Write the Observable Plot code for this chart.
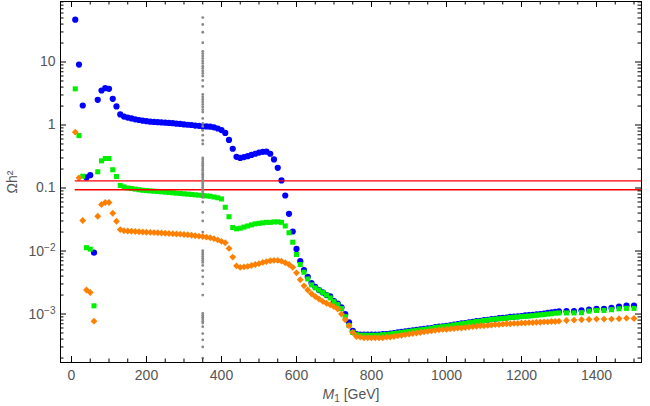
<!DOCTYPE html>
<html>
<head>
<meta charset="utf-8">
<script src="https://cdn.jsdelivr.net/npm/d3@7"></script>
<script src="https://cdn.jsdelivr.net/npm/@observablehq/plot@0.6"></script>
<style>
  html, body { margin: 0; padding: 0; background: #fff; }
  #chart { width: 650px; height: 406px; }
</style>
</head>
<body>
<div id="chart"></div>
<script>
// ---- data ----
const masses = [
  10, 20, 30, 40, 50, 60, 70, 80, 90, 100,
  110, 120, 130, 140, 150, 160, 170, 180, 190, 200,
  210, 220, 230, 240, 250, 260, 270, 280, 290, 300,
  310, 320, 330, 340, 350, 360, 370, 380, 390, 400,
  410, 420, 430, 440, 450, 460, 470, 480, 490, 500,
  510, 520, 530, 540, 550, 560, 570, 580, 590, 600,
  610, 620, 630, 640, 650, 660, 670, 680, 690, 700,
  710, 720, 730, 740, 750, 760, 770, 780, 790, 800,
  810, 820, 830, 840, 850, 860, 870, 880, 890, 900,
  910, 920, 930, 940, 950, 960, 970, 980, 990, 1000,
  1010, 1020, 1030, 1040, 1050, 1060, 1070, 1080, 1090, 1100,
  1110, 1120, 1130, 1140, 1150, 1160, 1170, 1180, 1190, 1200,
  1210, 1220, 1230, 1240, 1250, 1260, 1270, 1280, 1290, 1300,
  1320, 1340, 1360, 1380, 1400, 1420, 1440, 1460, 1480, 1500
];

const blueOmega = [
  47, 9.1, 2.04, 0.147, 0.16, 0.0094, 2.51, 3.53, 3.84, 3.75,
  2.6, 1.97, 1.47, 1.36, 1.31, 1.27, 1.23, 1.2, 1.17, 1.15,
  1.13, 1.12, 1.11, 1.1, 1.09, 1.08, 1.07, 1.05, 1.04, 1.02,
  1.01, 1.0, 0.98, 0.97, 0.95, 0.95, 0.94, 0.92, 0.88, 0.83,
  0.75, 0.58, 0.42, 0.313, 0.30, 0.31, 0.32, 0.335, 0.35, 0.365,
  0.375, 0.378, 0.35, 0.284, 0.209, 0.132, 0.076, 0.039, 0.0204, 0.0108,
  0.0069, 0.005, 0.0039, 0.0031, 0.0027, 0.0024, 0.0022, 0.002, 0.0019, 0.0016,
  0.00146, 0.00128, 0.001, 0.00074, 0.00054, 0.00048, 0.00047, 0.00047, 0.00047, 0.00047,
  0.00047, 0.00047, 0.00048, 0.00048, 0.00049, 0.0005, 0.00051, 0.00052, 0.00053, 0.00054,
  0.00055, 0.00056, 0.00057, 0.00058, 0.00059, 0.0006, 0.00062, 0.00063, 0.00064, 0.00065,
  0.00066, 0.00068, 0.00069, 0.00071, 0.00072, 0.00074, 0.00075, 0.00077, 0.00078, 0.0008,
  0.00081, 0.00083, 0.00084, 0.00086, 0.00087, 0.00088, 0.0009, 0.00091, 0.00092, 0.00093,
  0.00095, 0.00096, 0.00097, 0.00099, 0.001, 0.00102, 0.00104, 0.00106, 0.00108, 0.0011,
  0.00111, 0.00111, 0.00114, 0.00117, 0.00121, 0.00121, 0.00125, 0.00131, 0.00136, 0.00136
];

const greenOmega = [
  3.75, 0.68, 0.154, 0.0113, 0.0107, 0.00135, 0.181, 0.27, 0.294, 0.294,
  0.195, 0.152, 0.11, 0.104, 0.1, 0.098, 0.096, 0.094, 0.092, 0.091,
  0.09, 0.089, 0.088, 0.087, 0.086, 0.085, 0.084, 0.083, 0.082, 0.081,
  0.08, 0.079, 0.078, 0.077, 0.076, 0.075, 0.074, 0.072, 0.07, 0.067,
  0.0495, 0.035, 0.0236, 0.0225, 0.023, 0.024, 0.025, 0.026, 0.027, 0.0275,
  0.028, 0.0285, 0.0285, 0.029, 0.029, 0.0285, 0.025, 0.0195, 0.0138, 0.0088,
  0.0061, 0.0046, 0.0036, 0.0029, 0.0026, 0.0024, 0.0022, 0.002, 0.0018, 0.00157,
  0.00141, 0.00122, 0.00091, 0.00066, 0.00051, 0.00047, 0.00046, 0.00046, 0.00046, 0.00046,
  0.00046, 0.00046, 0.00047, 0.00047, 0.00048, 0.00049, 0.0005, 0.00051, 0.00052, 0.00053,
  0.00054, 0.00055, 0.00056, 0.00057, 0.00058, 0.00059, 0.00061, 0.00062, 0.00063, 0.00064,
  0.00065, 0.00067, 0.00068, 0.0007, 0.00071, 0.00073, 0.00074, 0.00076, 0.00077, 0.00079,
  0.0008, 0.00082, 0.00083, 0.00084, 0.00085, 0.00086, 0.00088, 0.00089, 0.0009, 0.00091,
  0.00092, 0.00093, 0.00094, 0.00096, 0.00097, 0.00098, 0.001, 0.00101, 0.00103, 0.00104,
  0.00104, 0.00104, 0.00105, 0.00111, 0.00114, 0.00114, 0.00117, 0.00121, 0.00123, 0.00123
];

const orangeOmega = [
  0.77, 0.145, 0.0305, 0.0024, 0.0022, 0.00077, 0.0357, 0.0547, 0.0589, 0.0589,
  0.0398, 0.0297, 0.0219, 0.021, 0.0208, 0.0206, 0.0204, 0.0202, 0.02, 0.0199,
  0.0198, 0.0196, 0.0195, 0.0193, 0.0191, 0.019, 0.0188, 0.0186, 0.0185, 0.0183,
  0.0181, 0.0178, 0.0175, 0.0172, 0.017, 0.0166, 0.0162, 0.0157, 0.015, 0.0142,
  0.0135, 0.011, 0.008, 0.0058, 0.0055, 0.0056, 0.0057, 0.0059, 0.0061, 0.0063,
  0.0066, 0.0068, 0.007, 0.0071, 0.0071, 0.0069, 0.0065, 0.0061, 0.0055, 0.0045,
  0.0035, 0.0028, 0.0024, 0.0021, 0.0019, 0.00173, 0.00159, 0.00148, 0.0014, 0.00131,
  0.0012, 0.001, 0.00081, 0.00065, 0.00051, 0.00044, 0.00043, 0.00042, 0.00042, 0.00042,
  0.00042, 0.00042, 0.00042, 0.00043, 0.00043, 0.00044, 0.00045, 0.00046, 0.00047, 0.00048,
  0.00049, 0.0005, 0.00051, 0.00052, 0.00053, 0.00054, 0.00055, 0.00056, 0.00057, 0.00057,
  0.00058, 0.00059, 0.0006, 0.0006, 0.00061, 0.00062, 0.00063, 0.00064, 0.00065, 0.00065,
  0.00066, 0.00067, 0.00068, 0.00068, 0.00069, 0.0007, 0.0007, 0.00071, 0.00071, 0.00072,
  0.00072, 0.00073, 0.00073, 0.00074, 0.00074, 0.00075, 0.00075, 0.00076, 0.00076, 0.00077,
  0.00079, 0.0008, 0.00081, 0.00082, 0.00083, 0.00083, 0.00083, 0.00084, 0.00086, 0.00085
];

// scan of Ωh² at fixed M1 = 350 GeV (grey dotted column)
const scanMass = 350;
const scanOmega = [
  50.8, 39.4, 29.7, 20.2, 14.8, 13.6, 12.5, 11.4, 10.4, 9.5, 8.6, 7.9, 7.2, 6.6, 6.0,
  5.1, 4.1, 3.05, 2.78, 2.54, 2.32, 2.12, 1.93, 1.76, 1.61, 1.27, 1.06, 0.95, 0.82,
  0.69, 0.57, 0.50, 0.30, 0.28, 0.26, 0.245, 0.23, 0.215, 0.2, 0.19, 0.175, 0.165,
  0.155, 0.145, 0.135, 0.125, 0.117, 0.11, 0.102, 0.095, 0.088, 0.082, 0.076, 0.071,
  0.06, 0.041, 0.03, 0.02, 0.0101, 0.0094, 0.0088, 0.0082, 0.0076, 0.0071, 0.0066,
  0.0059, 0.0049, 0.0039, 0.003, 0.002, 0.00102, 0.00095, 0.00089, 0.00083, 0.00077,
  0.00072, 0.00063, 0.00049, 0.00039, 0.0003, 0.0002
];

// relic-density band (red lines)
const bandOmega = [0.13, 0.094];
const bandFrom = 10, bandTo = 1520;

// ticks
const xTickLabels = [0, 200, 400, 600, 800, 1000, 1200, 1400];
const xMinorTicks = [50, 100, 150, 250, 300, 350, 450, 500, 550, 650, 700, 750, 850, 900, 950,
                     1050, 1100, 1150, 1250, 1300, 1350, 1450, 1500];
const yTickLabels = [0.001, 0.01, 0.1, 1, 10];
const yMinorTicks = [1e-4, 1e-3, 1e-2, 1e-1, 1, 10].flatMap(d => [2,3,4,5,6,7,8,9].map(k => +(k * d).toPrecision(3)));

// ---- layout ----
const W = 650, H = 406;
const mL = 60, mR = 9, mT = 1, mB = 44;
const innerW = W - mL - mR, innerH = H - mT - mB;
const majorLen = 6, minorLen = 3.5;

const series = (vals) => masses.map((m, i) => ({m, v: vals[i]}));
const blue = series(blueOmega), green = series(greenOmega), orange = series(orangeOmega);
const scan = scanOmega.map(v => ({m: scanMass, v}));

const yFmt = d => d === 10 ? "10" : d === 1 ? "1" : d === 0.1 ? "0.1" : d === 0.01 ? "10^-2" : d === 0.001 ? "10^-3" : "";

const tickColor = "#000";
const plot = Plot.plot({
  width: W, height: H,
  marginLeft: mL, marginRight: mR, marginTop: mT, marginBottom: mB,
  style: {fontFamily: "'Liberation Sans', Arial, sans-serif", fontSize: "14px", background: "#fff", overflow: "visible"},
  x: {domain: [-29.33, 1520]},
  y: {type: "log", domain: [1.7e-4, 91.3]},
  marks: [
    Plot.dot(blue, {x: "m", y: "v", r: 3.1, symbol: "circle", fill: "#0000ff", clip: true}),
    Plot.dot(green, {x: "m", y: "v", r: 2.85, symbol: "square", fill: "#00ef00", clip: true}),
    Plot.dot(orange, {x: "m", y: "v", r: 3.1, symbol: "diamond2", fill: "#ff8000", clip: true}),
    Plot.ruleY(bandOmega, {y: d => d, x1: bandFrom, x2: bandTo, stroke: "#ff0000", strokeWidth: 1.4, clip: true}),
    Plot.dot(scan, {x: "m", y: "v", r: 1.4, fill: "#888", clip: true}),
    // frame ticks (inward, all four sides)
    Plot.tickX(xTickLabels, {x: d => d, insetTop: innerH - majorLen, stroke: tickColor}),
    Plot.tickX(xTickLabels, {x: d => d, insetBottom: innerH - majorLen, stroke: tickColor}),
    Plot.tickX(xMinorTicks, {x: d => d, insetTop: innerH - minorLen, stroke: tickColor}),
    Plot.tickX(xMinorTicks, {x: d => d, insetBottom: innerH - minorLen, stroke: tickColor}),
    Plot.tickY(yTickLabels, {y: d => d, insetRight: innerW - majorLen, stroke: tickColor}),
    Plot.tickY(yTickLabels, {y: d => d, insetLeft: innerW - majorLen, stroke: tickColor}),
    Plot.tickY(yMinorTicks, {y: d => d, insetRight: innerW - minorLen, stroke: tickColor}),
    Plot.tickY(yMinorTicks, {y: d => d, insetLeft: innerW - minorLen, stroke: tickColor}),
    Plot.frame({stroke: "#000", strokeWidth: 1}),
    Plot.axisX({ticks: xTickLabels, tickSize: 0, tickPadding: 8, fontSize: 14, color: "#555", tickFormat: d => String(d),
                label: "M1 [GeV]", labelAnchor: "center", labelArrow: "none", labelOffset: 36}),
    Plot.axisY({ticks: yTickLabels, tickSize: 0, tickPadding: 5, fontSize: 14, color: "#555", tickFormat: yFmt,
                label: "Ωh²", labelAnchor: "center", labelArrow: "none", labelOffset: 53})
  ]
});

// typographic touches: superscripts and italic subscripted M1
d3.select(plot).selectAll("text").each(function() {
  const t = this.textContent;
  let m = t.match(/^10\^(-\d)$/);
  if (m) {
    this.textContent = "";
    const s = d3.select(this);
    s.append("tspan").text("10");
    s.append("tspan").attr("dy", "-0.45em").attr("font-size", "0.72em").text(m[1].replace("-", "\u2212"));
  } else if (t === "M1 [GeV]") {
    this.textContent = "";
    const s = d3.select(this);
    s.append("tspan").attr("font-style", "italic").text("M");
    s.append("tspan").attr("font-size", "0.72em").attr("dy", "0.35em").text("1");
    s.append("tspan").attr("dy", "-0.25em").text(" [GeV]");
  }
});

document.getElementById("chart").appendChild(plot);
</script>
</body>
</html>
